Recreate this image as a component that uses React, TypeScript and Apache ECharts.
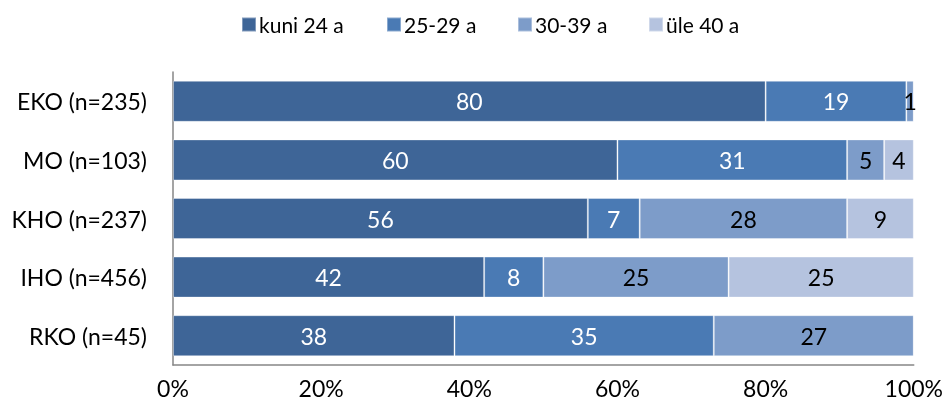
import React, { useEffect, useRef } from "react";
import * as echarts from "echarts";

const categories = ["EKO (n=235)", "MO (n=103)", "KHO (n=237)", "IHO (n=456)", "RKO (n=45)"];
const seriesNames = ["kuni 24 a", "25-29 a", "30-39 a", "üle 40 a"];
const kuni24 = [80, 60, 56, 42, 38];
const a25_29 = [19, 31, 7, 8, 35];
const a30_39 = [1, 5, 28, 25, 27];
const ule40 = [0, 4, 9, 25, 0];
const xTicks = [0, 20, 40, 60, 80, 100];

const colors = ["#3E6597", "#4A7AB4", "#7D9CC9", "#B5C3DF"];
const labelColors = ["#ffffff", "#ffffff", "#000000", "#000000"];
const legendLefts = [241, 386, 517, 648];
const FONT = "Lato";

export default function App() {
  const ref = useRef<HTMLDivElement>(null);
  useEffect(() => {
    if (!ref.current) return;
    const chart = echarts.init(ref.current, undefined, { renderer: "svg" });
    const data = [kuni24, a25_29, a30_39, ule40];
    chart.setOption({
      animation: false,
      textStyle: { fontFamily: FONT },
      legend: seriesNames.map((name, i) => ({
        top: 14,
        left: legendLefts[i],
        padding: 0,
        itemWidth: 14,
        itemHeight: 14,
        itemGap: 0,
        icon: "rect",
        textStyle: { fontFamily: FONT, fontSize: 21, color: "#000", padding: [0, 0, 0, -2] },
        data: [name],
      })),
      grid: { left: 173, right: 27, top: 72, bottom: 44, containLabel: false },
      xAxis: {
        type: "value",
        min: 0,
        max: 100,
        interval: 20,
        axisLine: { show: true, lineStyle: { color: "#868686", width: 1.5 } },
        axisTick: { show: false },
        splitLine: { show: false },
        axisLabel: {
          margin: 11,
          fontFamily: FONT,
          fontSize: 23,
          color: "#000",
          formatter: (v: number) => (xTicks.includes(v) ? v + "%" : ""),
        },
      },
      yAxis: {
        type: "category",
        data: categories,
        inverse: true,
        axisLine: { show: true, lineStyle: { color: "#868686", width: 1.5 } },
        axisTick: { show: false },
        axisLabel: { margin: 26, fontFamily: FONT, fontSize: 23, color: "#000" },
      },
      series: seriesNames.map((name, i) => ({
        name,
        type: "bar",
        stack: "total",
        barWidth: 41,
        data: data[i],
        itemStyle: { color: colors[i], borderColor: "rgba(255,255,255,0.35)", borderWidth: 1 },
        label: {
          show: true,
          position: "inside",
          fontFamily: FONT,
          fontSize: 23,
          color: labelColors[i],
          formatter: (p: any) => (p.value ? String(p.value) : ""),
        },
      })),
    });
    return () => chart.dispose();
  }, []);
  return (
    <div
      ref={ref}
      style={{ position: "fixed", left: 0, top: 0, width: 946, height: 409 }}
    />
  );
}
